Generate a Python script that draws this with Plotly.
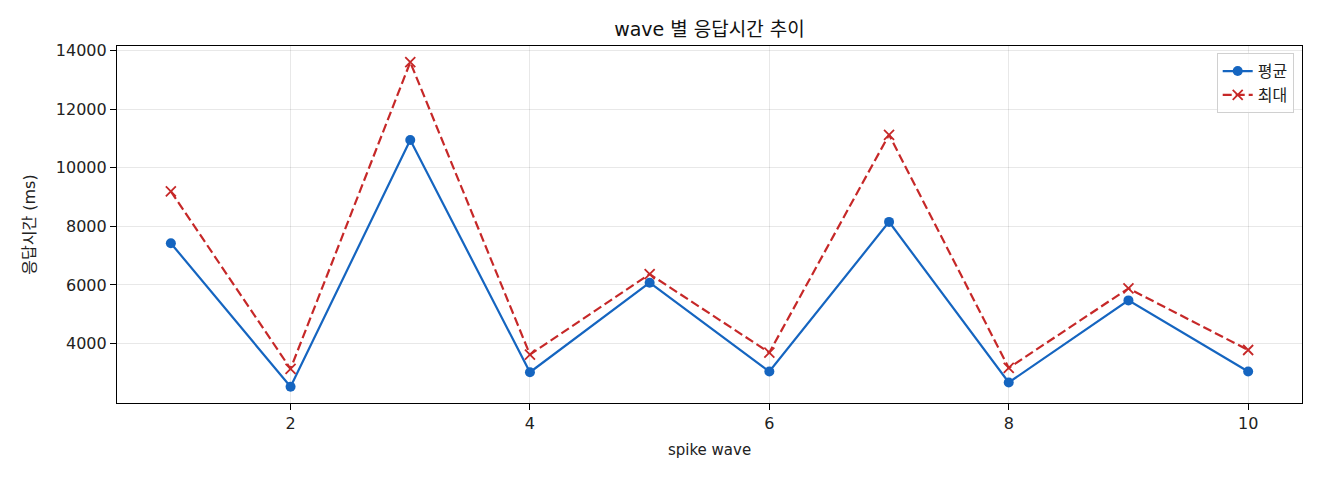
import plotly.graph_objects as go

# wave 별 평균 / 최대 응답시간 (ms)
waves = [1, 2, 3, 4, 5, 6, 7, 8, 9, 10]
avg_ms = [7425, 2527, 10945, 3023, 6077, 3047, 8153, 2672, 5474, 3047]
max_ms = [9194, 3139, 13600, 3626, 6370, 3694, 11125, 3170, 5883, 3782]
x_ticks = [2, 4, 6, 8, 10]
y_ticks = [4000, 6000, 8000, 10000, 12000, 14000]

FONT = "DejaVu Sans, Noto Sans CJK KR"
BLUE = "#1565C0"
RED = "#C62828"


def padded(lo, hi, frac=0.05):
    # matplotlib style auto margins
    span = hi - lo
    return [lo - span * frac, hi + span * frac]


fig = go.Figure()
fig.add_trace(go.Scatter(
    x=waves, y=avg_ms, name="평균", mode="lines+markers",
    line=dict(color=BLUE, width=2.2),
    marker=dict(symbol="circle", size=10, color=BLUE),
))
fig.add_trace(go.Scatter(
    x=waves, y=max_ms, name="최대", mode="lines+markers",
    line=dict(color=RED, width=2.2, dash="9px,4px"),
    marker=dict(symbol="x-thin", size=10, line=dict(color=RED, width=1.8)),
))

axis_common = dict(
    showline=True, linecolor="black", linewidth=1.2, mirror=True,
    ticks="outside", ticklen=6, tickcolor="black", tickwidth=1.2,
    showgrid=True, gridcolor="rgba(0,0,0,0.09)", gridwidth=1,
    zeroline=False, tickformat="d",
    tickfont=dict(family=FONT, size=16, color="#222"),
)

# page body adds ~8px offset, margins compensate
fig.update_layout(
    width=1320, height=480,
    paper_bgcolor="white", plot_bgcolor="white",
    margin=dict(l=109, r=26, t=38, b=85),
    title=dict(text="wave 별 응답시간 추이", x=0.5, xref="paper", xanchor="center",
               y=0.956, yanchor="middle",
               font=dict(family=FONT, size=19, color="#111")),
    font=dict(family=FONT, size=14, color="#222"),
    showlegend=True,
    legend=dict(x=0.993, y=0.98, xanchor="right", yanchor="top",
                bordercolor="#d0d0d0", borderwidth=1, bgcolor="rgba(255,255,255,0.8)",
                font=dict(family=FONT, size=16, color="#222")),
)
fig.update_xaxes(range=padded(min(waves), max(waves)), tickvals=x_ticks,
                 title=dict(text="spike wave", font=dict(family=FONT, size=15, color="#222"), standoff=12),
                 **axis_common)
fig.update_yaxes(range=padded(min(avg_ms), max(max_ms)), tickvals=y_ticks,
                 title=dict(text="응답시간 (ms)", font=dict(family=FONT, size=16, color="#222"), standoff=16),
                 **axis_common)

fig.write_html("out.html")
